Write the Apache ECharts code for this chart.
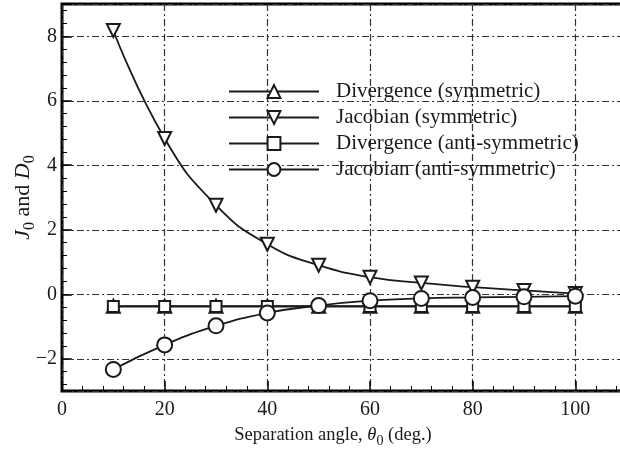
<!DOCTYPE html>
<html>
<head>
<meta charset="utf-8">
<script src="https://cdn.jsdelivr.net/npm/echarts@6/dist/echarts.min.js"></script>
<style>html,body{margin:0;padding:0;background:#fff;}#c{width:620px;height:449px;}</style>
</head>
<body>
<div id="c"></div>
<script>
const angles = [10, 20, 30, 40, 50, 60, 70, 80, 90, 100];
const divSym = [-0.37, -0.37, -0.37, -0.37, -0.37, -0.37, -0.37, -0.37, -0.37, -0.37];
const jacSym = [8.18, 4.83, 2.76, 1.55, 0.9, 0.53, 0.35, 0.22, 0.12, 0.02];
const divAnti = [-0.38, -0.38, -0.38, -0.38, -0.38, -0.38, -0.38, -0.38, -0.38, -0.38];
const jacAnti = [-2.33, -1.57, -0.98, -0.58, -0.35, -0.2, -0.13, -0.1, -0.08, -0.06];
const names = ['Divergence (symmetric)', 'Jacobian (symmetric)', 'Divergence (anti-symmetric)', 'Jacobian (anti-symmetric)'];

const FONT = 'Liberation Serif';
const INK = '#1a1a1a';
function pairs(ys) { return angles.map((x, i) => [x, ys[i]]); }

function mk(name, ys, symbol, rot, size, smooth) {
  return {
    name: name, type: 'line', data: pairs(ys), smooth: smooth,
    symbol: symbol, symbolSize: size, symbolRotate: rot,
    lineStyle: { color: INK, width: 1.8 },
    itemStyle: { color: INK, borderWidth: 1.6 },
    emphasis: { disabled: true }, z: 3
  };
}

const chart = echarts.init(document.getElementById('c'));
chart.setOption({
  animation: false,
  backgroundColor: '#fff',
  grid: { left: 62, top: 4, width: 616, height: 387, show: true, borderColor: '#000', borderWidth: 3,
    backgroundColor: 'transparent', containLabel: false, outerBoundsMode: 'none' },
  legend: {
    orient: 'vertical', left: 228, top: 81, itemWidth: 90, itemHeight: 16, itemGap: 5, padding: 0,
    data: names,
    textStyle: { fontFamily: FONT, fontSize: 21, lineHeight: 21, color: INK, padding: [0, 0, 0, 12] },
    inactiveColor: INK
  },
  xAxis: {
    type: 'value', min: 0, max: 120, interval: 20,
    name: 'Separation angle, {i|θ}{s|0} (deg.)', nameLocation: 'middle', nameGap: 31, nameMoveOverlap: false,
    nameTextStyle: { fontFamily: FONT, fontSize: 18.5, color: INK, padding: [0, 74, 0, 0],
      rich: { i: { fontFamily: FONT, fontStyle: 'italic', fontSize: 18.5, color: INK },
              s: { fontFamily: FONT, fontSize: 14, color: INK, verticalAlign: 'bottom', padding: [12, 0, 0, 0] } } },
    axisLine: { show: false, onZero: false },
    axisTick: { inside: true, length: 10, lineStyle: { color: '#000', width: 1.5 } },
    minorTick: { show: true, splitNumber: 5, length: 5, lineStyle: { color: '#000', width: 1 } },
    axisLabel: { fontFamily: FONT, fontSize: 20, color: INK, margin: 9, showMaxLabel: false },
    splitLine: { show: true, lineStyle: { color: '#333', width: 1.2, type: [7, 3, 2, 3] } }
  },
  yAxis: {
    type: 'value', min: -3, max: 9, splitNumber: 6,
    name: '{i|J}{s|0} and {i|D}{s|0}', nameLocation: 'middle', nameGap: 24, nameRotate: 90, nameMoveOverlap: false,
    nameTextStyle: { fontFamily: FONT, fontSize: 22, color: INK,
      rich: { i: { fontFamily: FONT, fontStyle: 'italic', fontSize: 22, color: INK },
              s: { fontFamily: FONT, fontSize: 16, color: INK, verticalAlign: 'bottom', padding: [13, 0, 0, 0] } } },
    axisLine: { show: false, onZero: false },
    axisTick: { inside: true, length: 10, lineStyle: { color: '#000', width: 1.5 } },
    minorTick: { show: true, splitNumber: 5, length: 5, lineStyle: { color: '#000', width: 1 } },
    axisLabel: { fontFamily: FONT, fontSize: 20, color: INK, margin: 5, showMinLabel: false, showMaxLabel: false,
      formatter: v => String(v).replace('-', '\u2212') },
    splitLine: { show: true, lineStyle: { color: '#333', width: 1.2, type: [7, 3, 2, 3] } }
  },
  series: [
    mk(names[0], divSym, 'emptyTriangle', 0, 13, false),
    mk(names[1], jacSym, 'emptyTriangle', 180, 13, true),
    mk(names[2], divAnti, 'emptyRect', 0, 11, false),
    mk(names[3], jacAnti, 'emptyCircle', 0, 15, true)
  ]
});
</script>
</body>
</html>
